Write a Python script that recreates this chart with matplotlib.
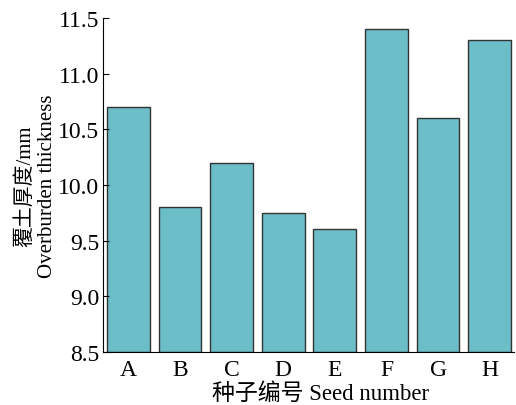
import matplotlib
matplotlib.use("Agg")
import matplotlib.pyplot as plt

# seed numbers and overburden thickness (mm)
seeds = ["A", "B", "C", "D", "E", "F", "G", "H"]
thickness = [10.7, 9.8, 10.2, 9.75, 9.6, 11.4, 10.6, 11.3]
y_ticks = [8.5, 9.0, 9.5, 10.0, 10.5, 11.0, 11.5]

plt.rcParams["font.family"] = ["Liberation Serif", "Noto Sans CJK SC"]

fig = plt.figure(figsize=(5.16, 4.06), dpi=100)
ax = fig.add_axes([0.2, 0.131, 0.796, 0.822])

base = 8.5
ax.bar(range(len(seeds)), [v - base for v in thickness], bottom=base, width=0.83,
       color="#6bbdc8", edgecolor="#333333", linewidth=1.0)

ax.set_xlim(-0.49, 7.47)
ax.set_ylim(8.5, 11.5)
ax.set_yticks(y_ticks)
ax.set_yticklabels([f"{t:.1f}" for t in y_ticks])
ax.set_xticks(range(len(seeds)))
ax.set_xticklabels(seeds)

ax.spines["top"].set_visible(False)
ax.spines["right"].set_visible(False)
ax.tick_params(axis="y", direction="in", length=4, labelsize=17, pad=3)
ax.tick_params(axis="x", length=0, labelsize=17, pad=5)

ax.set_ylabel("覆土厚度/mm\nOverburden thickness", fontsize=15, linespacing=1.2, labelpad=1)
ax.set_xlabel("种子编号 Seed number", fontsize=16.5, labelpad=2, x=0.528)

fig.savefig("out.png", dpi=100)
